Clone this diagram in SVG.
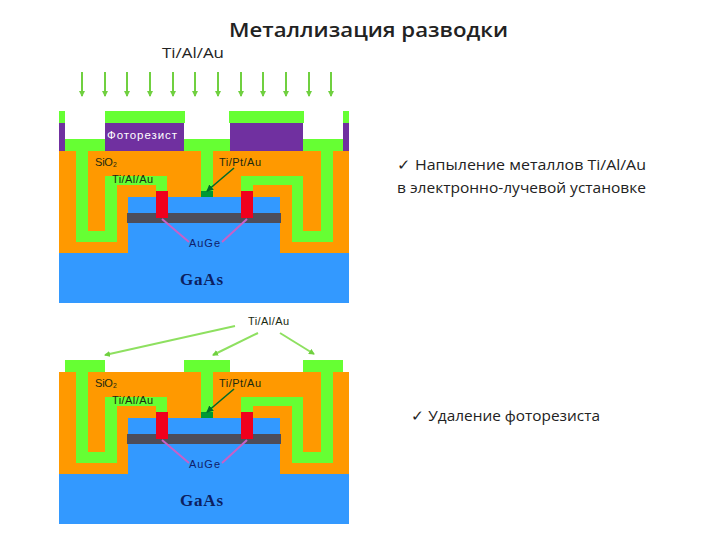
<svg xmlns="http://www.w3.org/2000/svg" width="720" height="540" viewBox="0 0 720 540">
<style>
.g{fill:#66ff33}.o{fill:#ff9900}.b{fill:#3399ff}.p{fill:#7030a0}.r{fill:#f0001c}.k{fill:#4d4d5a}.d{fill:#009933}
text{font-family:"Liberation Sans",Arial,sans-serif}
.s{font-size:11px;fill:#1a2a10}
.n{font-size:11px;fill:#10206a}
.ga{font-family:"Liberation Serif","Times New Roman",serif;font-size:17px;font-weight:bold;fill:#0c2060}
.big{font-family:"Open Sans",sans-serif;fill:#222}
.dn{stroke:#70d040;stroke-width:2;fill:none;marker-end:url(#ah)}
.lead{stroke:#8ee060;stroke-width:2;fill:none;marker-end:url(#ah)}
.pk{stroke:#c860c8;stroke-width:2;fill:none}
.dk{stroke:#006b2a;stroke-width:1.6;fill:none;marker-end:url(#ahd)}
</style>
<defs>
<marker id="ah" markerWidth="6" markerHeight="6" refX="5" refY="3" orient="auto" markerUnits="userSpaceOnUse"><path d="M0 0L6 3L0 6Z" fill="#70d040"/></marker>
<marker id="ahd" markerWidth="7" markerHeight="7" refX="6" refY="3.5" orient="auto" markerUnits="userSpaceOnUse"><path d="M0 0L7 3.5L0 7Z" fill="#006b2a"/></marker>
<g id="section">
<rect class="o" x="59" y="151" width="290" height="102"/>
<rect class="b" x="59" y="253" width="290" height="50"/>
<rect class="b" x="128" y="197" width="152" height="56"/>
<path class="g" d="M76 151H88V231H105V176H167V191H156V185H117V242H76Z"/>
<path class="g" d="M333 151H321V231H303V176H241V191H253V185H292V242H333Z"/>
<rect class="g" x="201" y="151" width="12" height="40"/>
<rect class="d" x="201" y="191" width="12" height="6"/>
<rect class="k" x="127" y="213" width="154" height="10"/>
<rect class="r" x="156" y="191" width="12" height="27"/>
<rect class="r" x="241" y="191" width="12" height="27"/>
<path class="pk" d="M162 219L189 242M247 219L222 242"/>
<path class="dk" d="M234 168L207 191"/>
</g>
</defs>

<g id="heading">
<text class="big" x="229" y="37" font-size="20.5" font-weight="600" textLength="279" lengthAdjust="spacingAndGlyphs">Металлизация разводки</text>
<text class="big" x="162" y="58" font-size="15" textLength="62" lengthAdjust="spacingAndGlyphs">Ti/Al/Au</text>
</g>

<g id="connectors">
<path class="dn" d="M82 72V96"/><path class="dn" d="M105 72V96"/><path class="dn" d="M127 72V96"/><path class="dn" d="M150 72V96"/><path class="dn" d="M173 72V96"/><path class="dn" d="M195 72V96"/><path class="dn" d="M218 72V96"/><path class="dn" d="M241 72V96"/><path class="dn" d="M263 72V96"/><path class="dn" d="M286 72V96"/><path class="dn" d="M309 72V96"/><path class="dn" d="M331 72V96"/>
<path class="lead" d="M235 326L105 355"/><path class="lead" d="M258 333L213 355"/><path class="lead" d="M280 333L314 354"/>
</g>

<g id="top-section">
<use href="#section"/>
<rect class="g" x="65" y="139" width="40" height="12"/>
<rect class="g" x="184" y="139" width="46" height="12"/>
<rect class="g" x="303" y="139" width="40" height="12"/>
<rect class="g" x="59" y="111" width="6" height="12"/>
<rect class="p" x="59" y="123" width="6" height="28"/>
<rect class="g" x="105" y="111" width="80" height="12"/>
<rect class="p" x="105" y="123" width="79" height="28"/>
<rect class="g" x="229" y="111" width="75" height="12"/>
<rect class="p" x="230" y="123" width="73" height="28"/>
<rect class="g" x="343" y="111" width="6" height="12"/>
<rect class="p" x="343" y="123" width="6" height="28"/>
<text x="107" y="139" font-size="11.5" fill="#fff" textLength="70">Фоторезист</text>
<text class="s" x="95" y="166" textLength="22">SiO₂</text>
<text class="s" x="219" y="166" textLength="42">Ti/Pt/Au</text>
<text class="s" x="112" y="183" textLength="41">Ti/Al/Au</text>
<text class="n" x="189" y="247" textLength="31">AuGe</text>
<text class="ga" x="180" y="285" textLength="43">GaAs</text>
</g>

<g id="bottom-section">
<use href="#section" y="221"/>
<rect class="g" x="65" y="360" width="40" height="12"/>
<rect class="g" x="184" y="360" width="46" height="12"/>
<rect class="g" x="303" y="360" width="40" height="12"/>
<text class="s" x="248" y="325" textLength="41">Ti/Al/Au</text>
<text class="s" x="95" y="387" textLength="22">SiO₂</text>
<text class="s" x="219" y="387" textLength="42">Ti/Pt/Au</text>
<text class="s" x="112" y="404" textLength="41">Ti/Al/Au</text>
<text class="n" x="189" y="468" textLength="31">AuGe</text>
<text class="ga" x="180" y="506" textLength="43">GaAs</text>
</g>

<g id="notes">
<text class="big" x="397" y="170" font-size="15" textLength="249" lengthAdjust="spacingAndGlyphs">✓ Напыление металлов Ti/Al/Au</text>
<text class="big" x="397" y="193" font-size="15" textLength="249" lengthAdjust="spacingAndGlyphs">в электронно-лучевой установке</text>
<text class="big" x="411" y="421" font-size="15" textLength="189" lengthAdjust="spacingAndGlyphs">✓ Удаление фоторезиста</text>
</g>
</svg>
